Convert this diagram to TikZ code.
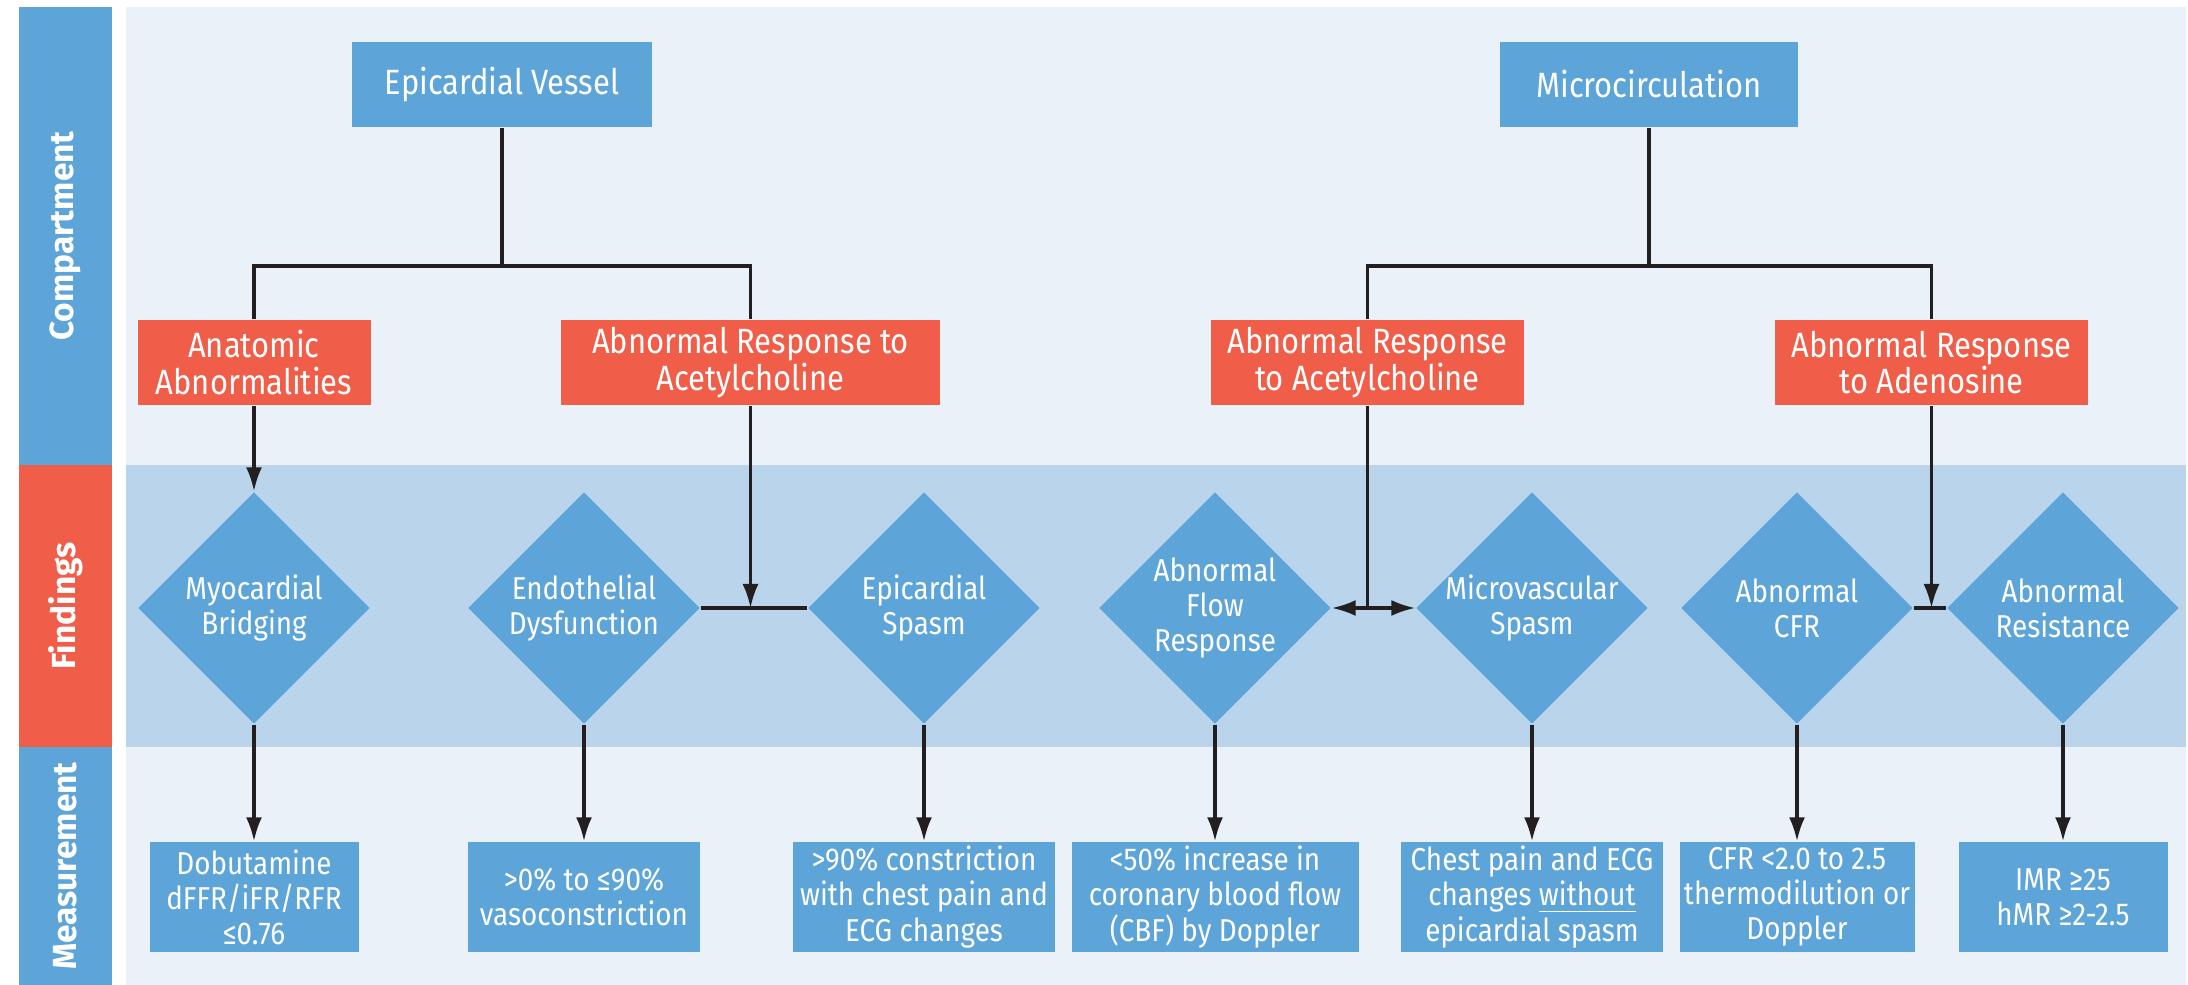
\documentclass[tikz,border=0pt]{standalone}
\usepackage{fontspec}
\setmainfont{Fira Sans}[FakeStretch=0.88]
\newfontfamily\barfont{Fira Sans}
\usetikzlibrary{shapes.geometric,arrows.meta}
\definecolor{boxblue}{RGB}{93,164,216}
\definecolor{boxred}{RGB}{240,94,74}
\definecolor{panelbg}{RGB}{234,241,249}
\definecolor{bandbg}{RGB}{186,212,236}
\definecolor{linkcol}{RGB}{35,31,32}
\tikzset{>={Latex[length=2.4mm,width=1.6mm]}}
\tikzset{
	compbox/.style={fill=boxblue, text=white, minimum height=8.5mm, inner sep=0pt, font=\fontsize{10}{10.5}\selectfont},
	causebox/.style={fill=boxred, text=white, minimum height=8.5mm, inner sep=0pt, align=center, font=\fontsize{10}{10.5}\selectfont},
	findbox/.style={diamond, shape aspect=1, fill=boxblue, text=white, minimum width=23.2mm, minimum height=23.2mm, inner sep=-2mm, align=center, font=\fontsize{9}{10}\selectfont},
	measbox/.style={fill=boxblue, text=white, minimum height=11mm, inner sep=0pt, align=center, font=\fontsize{9}{10}\selectfont},
	link/.style={line width=0.9pt, linkcol},
	barlabel/.style={rotate=90, text=white, font=\barfont\bfseries\fontsize{9.5}{11}\selectfont}
}

\begin{document}
\begin{tikzpicture}
		\useasboundingbox (0,0) rectangle (21.88,-9.85);
		\fill[white] (0,0) rectangle (21.88,-9.85);

		% Side bar
		\fill[boxblue] (0.19,-0.07) rectangle (1.12,-4.65);
		\fill[boxred] (0.19,-4.65) rectangle (1.12,-7.47);
		\fill[boxblue] (0.19,-7.47) rectangle (1.12,-9.85);
		\node[barlabel] (lcomp) at (0.655,-2.36) {Compartment};
		\node[barlabel] (lfind) at (0.655,-6.06) {Findings};
		\node[barlabel] (lmeas) at (0.655,-8.66) {Measurement};

		% Panel and band
		\fill[panelbg] (1.26,-0.07) rectangle (21.86,-9.85);
		\fill[bandbg] (1.26,-4.65) rectangle (21.86,-7.47);

		% Compartments
		\node[compbox, minimum width=30mm] (epi) at (5.02,-0.845) {Epicardial Vessel};
		\node[compbox, minimum width=29.8mm] (micro) at (16.49,-0.845) {Microcirculation};
		\node[causebox, minimum width=23.3mm] (anat) at (2.54,-3.625) {Anatomic\\Abnormalities};
		\node[causebox, minimum width=37.9mm] (achL) at (7.505,-3.625) {Abnormal Response to\\Acetylcholine};
		\node[causebox, minimum width=31.3mm] (achR) at (13.675,-3.625) {Abnormal Response\\to Acetylcholine};
		\node[causebox, minimum width=31.3mm] (ado) at (19.315,-3.625) {Abnormal Response\\to Adenosine};

		% Findings
		\node[findbox] (bridge) at (2.54,-6.08) {Myocardial\\Bridging};
		\node[findbox] (endo) at (5.84,-6.08) {Endothelial\\Dysfunction};
		\node[findbox] (episp) at (9.24,-6.08) {Epicardial\\Spasm};
		\node[findbox] (flow) at (12.15,-6.08) {Abnormal\\Flow\\Response};
		\node[findbox] (mvs) at (15.32,-6.08) {Microvascular\\Spasm};
		\node[findbox] (cfr) at (17.97,-6.08) {Abnormal\\CFR};
		\node[findbox] (resist) at (20.63,-6.08) {Abnormal\\Resistance};

		% Measurements
		\node[measbox, minimum width=20.9mm] (dob) at (2.54,-8.97) {Dobutamine\\dFFR/iFR/RFR\\≤0.76};
		\node[measbox, minimum width=23.2mm] (vaso) at (5.84,-8.97) {>0\% to ≤90\%\\vasoconstriction};
		\node[measbox, minimum width=26.2mm] (constr) at (9.24,-8.97) {>90\% constriction\\with chest pain and\\ECG changes};
		\node[measbox, minimum width=28.7mm] (cbf) at (12.15,-8.97) {<50\% increase in\\coronary blood flow\\(CBF) by Doppler};
		\node[measbox, minimum width=26.2mm] (chest) at (15.32,-8.97) {Chest pain and ECG\\changes \underline{without}\\epicardial spasm};
		\node[measbox, minimum width=23.5mm] (cfrm) at (17.97,-8.97) {CFR <2.0 to 2.5\\thermodilution or\\Doppler};
		\node[measbox, minimum width=20.9mm] (imr) at (20.63,-8.97) {IMR ≥25\\hMR ≥2-2.5};

		% Tree links
		\coordinate (epijoin) at (5.02,-2.66);
		\coordinate (microjoin) at (16.49,-2.66);
		\draw[link] (epi.south) -- (epijoin);
		\draw[link] (anat.north) |- (epijoin) -| (achL.north);
		\draw[link] (micro.south) -- (microjoin);
		\draw[link] (achR.north) |- (microjoin) -| (ado.north);

		% Links into findings
		\draw[link, ->] (anat.south) -- (bridge.north);
		\draw[link] (endo.east) -- (episp.west);
		\draw[link, ->] (achL.south) -- (achL.south |- endo.east);
		\draw[link, <->] (flow.east) -- (mvs.west);
		\draw[link] (achR.south) -- (achR.south |- flow.east);
		\draw[link] (cfr.east) -- (resist.west);
		\draw[link, ->] (ado.south) -- (ado.south |- cfr.east);

		% Links into measurements
		\draw[link, ->] (bridge.south) -- (dob.north);
		\draw[link, ->] (endo.south) -- (vaso.north);
		\draw[link, ->] (episp.south) -- (constr.north);
		\draw[link, ->] (flow.south) -- (cbf.north);
		\draw[link, ->] (mvs.south) -- (chest.north);
		\draw[link, ->] (cfr.south) -- (cfrm.north);
		\draw[link, ->] (resist.south) -- (imr.north);
\end{tikzpicture}
\end{document}
